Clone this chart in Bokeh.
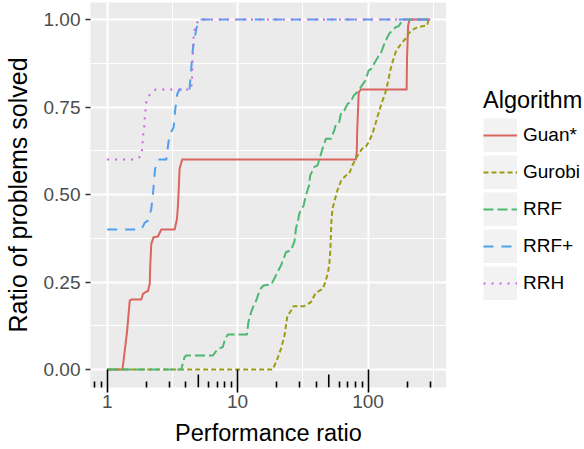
from bokeh.plotting import figure
from bokeh.layouts import row
from bokeh.models import (Range1d, FixedTicker, NumeralTickFormatter, Legend,
                          LegendItem, BasicTickFormatter)
from bokeh.embed import file_html
from bokeh.resources import INLINE

# ---------------- data ----------------
ALGORITHMS = ["Guan*", "Gurobi", "RRF", "RRF+", "RRH"]

guan_x = [1, 1.31, 1.36, 1.42, 1.49, 1.53, 1.83, 1.88, 1.97, 2.06, 2.12, 2.14,
          2.18, 2.27, 2.45, 2.6, 3.29, 3.43, 3.49, 3.55, 3.59, 3.76, 80.5, 82,
          82.5, 84.9, 88, 197.7, 199, 203, 208, 300]
guan_y = [0, 0, 0.05, 0.107, 0.197, 0.2, 0.2, 0.216, 0.221, 0.225, 0.245, 0.297,
          0.359, 0.378, 0.38, 0.4, 0.4, 0.43, 0.469, 0.526, 0.573, 0.6, 0.6, 0.621,
          0.678, 0.792, 0.8, 0.8, 0.888, 0.983, 1.0, 1.0]

gurobi_x = [1, 18.6, 20.2, 21.5, 22.9, 23.5, 24.1, 25.5, 26.8, 32.3, 36.4, 39.7,
            44.8, 47, 49, 50.4, 51.3, 51.9, 52.5, 53.4, 55.5, 58.1, 62.3, 67.5,
            71.6, 75.8, 80.5, 84.9, 90.2, 95.7, 101, 108, 114, 121, 128, 136, 142,
            148, 154, 163, 172, 183, 194, 204, 216, 239, 284, 290, 296]
gurobi_y = [0, 0, 0.031, 0.059, 0.097, 0.126, 0.154, 0.166, 0.181, 0.181, 0.192,
            0.219, 0.23, 0.249, 0.273, 0.297, 0.335, 0.383, 0.43, 0.459, 0.483,
            0.511, 0.54, 0.554, 0.559, 0.583, 0.602, 0.616, 0.631, 0.635, 0.649,
            0.673, 0.702, 0.735, 0.764, 0.792, 0.821, 0.854, 0.878, 0.907, 0.921,
            0.935, 0.945, 0.959, 0.969, 0.978, 0.983, 0.997, 1.0]

rrf_x = [1, 3.7, 3.92, 4.03, 6.46, 7.05, 7.7, 8.03, 8.42, 11.8, 12.1, 12.7, 13.3,
         13.9, 14.3, 14.9, 15.8, 18.1, 19.1, 20.2, 21.5, 23.5, 25.7, 27.3, 28.0,
         29.2, 29.7, 31, 32, 33.4, 35.3, 36.0, 38.6, 41, 44.8, 47.5, 51.9, 55.1,
         56.8, 60.1, 62.3, 65.7, 69.7, 73.6, 77.7, 84.9, 88, 95.7, 101, 106, 111,
         121, 125, 132, 139, 145, 154, 163, 172, 183, 190, 300]
rrf_y = [0, 0, 0.035, 0.04, 0.04, 0.059, 0.064, 0.088, 0.1, 0.1, 0.135, 0.164,
         0.183, 0.197, 0.211, 0.23, 0.24, 0.243, 0.259, 0.278, 0.297, 0.335, 0.341,
         0.366, 0.402, 0.43, 0.445, 0.461, 0.467, 0.497, 0.526, 0.554, 0.578, 0.583,
         0.631, 0.659, 0.659, 0.683, 0.702, 0.707, 0.735, 0.74, 0.759, 0.764, 0.783,
         0.797, 0.807, 0.826, 0.854, 0.859, 0.873, 0.897, 0.902, 0.926, 0.945,
         0.959, 0.969, 0.978, 0.981, 0.997, 1.0, 1.0]

rrfp_x = [1, 1.83, 1.94, 2.06, 2.18, 2.25, 2.33, 2.47, 2.84, 2.93, 3.0, 3.23, 3.32,
          3.45, 3.59, 4.28, 4.41, 4.54, 4.82, 5.1, 300]
rrfp_y = [0.4, 0.4, 0.419, 0.426, 0.459, 0.507, 0.573, 0.6, 0.6, 0.64, 0.669, 0.692,
          0.74, 0.788, 0.8, 0.8, 0.859, 0.916, 0.973, 1.0, 1.0]

rrh_x = [1, 1.675, 1.83, 1.86, 1.88, 1.92, 1.94, 1.97, 2.0, 2.12, 2.35, 4.41, 4.47,
         4.49, 4.51, 4.54, 4.56, 4.62, 4.74, 5.1, 300]
rrh_y = [0.6, 0.6, 0.611, 0.638, 0.664, 0.689, 0.716, 0.742, 0.767, 0.785, 0.8, 0.8,
         0.829, 0.853, 0.88, 0.906, 0.932, 0.958, 0.983, 1.0, 1.0]

X_MAJOR = [1, 10, 100]
X_LABELS = ["1", "10", "100"]
X_GRID_MINOR = [10 ** 0.5, 10 ** 1.5, 10 ** 2.5]
LOG_SHORT = [0.8, 0.9, 2, 3, 4, 6, 7, 8, 9, 20, 30, 40, 60, 70, 80, 90, 200, 300, 400]
LOG_MID = [5, 50]
Y_MAJOR = [0, 0.25, 0.5, 0.75, 1.0]
Y_MINOR = [0.125, 0.375, 0.625, 0.875]

# ---------------- styling ----------------
COLORS = ["#DA655E", "#9C9C12", "#4DB872", "#4FA0F0", "#CC62E8"]
DASHES = ["solid", "5 3", "10 4", "10 8", "2 6"]
FONT = "Liberation Sans"

X_LO, X_HI = 0.7452, 399.6
FRAME_H = 385
Y_MIN, Y_MAX = (369 - 387) / 350, (369 - 2) / 350

p = figure(width=446, height=449, x_axis_type="log",
           x_range=Range1d(X_LO, X_HI), y_range=Range1d(Y_MIN, Y_MAX),
           output_backend="svg", toolbar_location=None,
           min_border_left=89, min_border_right=0, min_border_top=2,
           min_border_bottom=62)
p.background_fill_color = "#EBEBEB"
p.border_fill_color = "white"
p.outline_line_color = None

# grids
p.xgrid.ticker = FixedTicker(ticks=X_MAJOR, minor_ticks=X_GRID_MINOR)
p.ygrid.ticker = FixedTicker(ticks=Y_MAJOR, minor_ticks=Y_MINOR)
for g in (p.xgrid, p.ygrid):
    g.grid_line_color = "white"
    g.grid_line_width = 2
    g.minor_grid_line_color = "white"
    g.minor_grid_line_width = 1

# x axis (with log ticks drawn inside, like annotation_logticks)
xa = p.xaxis[0]
xa.ticker = FixedTicker(ticks=X_MAJOR, minor_ticks=LOG_SHORT)
xa.formatter = BasicTickFormatter()
xa.major_label_overrides = {v: s for v, s in zip(X_MAJOR, X_LABELS)}
xa.axis_line_color = None
xa.major_tick_out = 5
xa.major_tick_in = 18
xa.minor_tick_out = 0
xa.minor_tick_in = 6
xa.major_tick_line_color = "black"
xa.minor_tick_line_color = "black"
xa.major_tick_line_width = 1.6
xa.minor_tick_line_width = 1.6
xa.major_label_text_font = FONT
xa.major_label_text_font_size = "19px"
xa.major_label_text_color = "#4D4D4D"
xa.major_label_standoff = 2
xa.axis_label = "Performance ratio"
xa.axis_label_text_font = FONT
xa.axis_label_text_font_size = "23.5px"
xa.axis_label_text_font_style = "normal"
xa.axis_label_text_color = "black"
xa.axis_label_standoff = 9

# y axis
ya = p.yaxis[0]
ya.ticker = FixedTicker(ticks=Y_MAJOR, minor_ticks=[])
ya.formatter = NumeralTickFormatter(format="0.00")
ya.axis_line_color = None
ya.major_tick_out = 5
ya.major_tick_in = 0
ya.minor_tick_line_color = None
ya.major_tick_line_color = "#333333"
ya.major_tick_line_width = 1.6
ya.major_label_text_font = FONT
ya.major_label_text_font_size = "19px"
ya.major_label_text_color = "#4D4D4D"
ya.major_label_standoff = 5
ya.axis_label = "Ratio of problems solved"
ya.axis_label_text_font = FONT
ya.axis_label_text_font_size = "25px"
ya.axis_label_text_font_style = "normal"
ya.axis_label_text_color = "black"
ya.axis_label_standoff = 9

# data lines
series = [(guan_x, guan_y), (gurobi_x, gurobi_y), (rrf_x, rrf_y),
          (rrfp_x, rrfp_y), (rrh_x, rrh_y)]
for (xs, ys), col, dash in zip(series, COLORS, DASHES):
    p.line(xs, ys, line_color=col, line_width=2, line_dash=dash, line_join="round")

# mid-length log ticks (at 5, 50)
mid_len = 13 * (Y_MAX - Y_MIN) / FRAME_H
p.segment(x0=LOG_MID, x1=LOG_MID, y0=[Y_MIN] * len(LOG_MID),
          y1=[Y_MIN + mid_len] * len(LOG_MID), line_color="black", line_width=1.6)

# ---------------- legend panel (separate figure to the right) ----------------
lg = figure(width=138, height=449, x_range=Range1d(0, 1), y_range=Range1d(0, 1),
            output_backend="svg", toolbar_location=None,
            x_axis_location=None, y_axis_location=None,
            min_border=0, outline_line_color=None)
lg.grid.visible = False
lg.background_fill_color = "white"
lg.border_fill_color = "white"

# single-point lines: nothing is drawn in the panel, only the legend keys
key_bg = lg.line(x=[0.5], y=[0.5], line_color="#F2F2F2", line_width=34,
                 line_cap="butt")
items = []
for name, col, dash in zip(ALGORITHMS, COLORS, DASHES):
    r = lg.line(x=[0.5], y=[0.5], line_color=col, line_width=2, line_dash=dash)
    items.append(LegendItem(label=name, renderers=[key_bg, r]))

legend = Legend(items=items, location=(37, 87), title="Algorithm",
                title_text_font=FONT, title_text_font_size="23.5px",
                title_text_font_style="normal", title_text_color="black",
                title_standoff=4,
                label_text_font=FONT, label_text_font_size="19px",
                label_text_color="black", label_standoff=6,
                glyph_width=34, glyph_height=34, spacing=3, padding=0, margin=0,
                border_line_color=None, background_fill_alpha=0)
lg.add_layout(legend, "center")

layout = row(p, lg, spacing=0)
open("out.html", "w").write(file_html(layout, INLINE))
